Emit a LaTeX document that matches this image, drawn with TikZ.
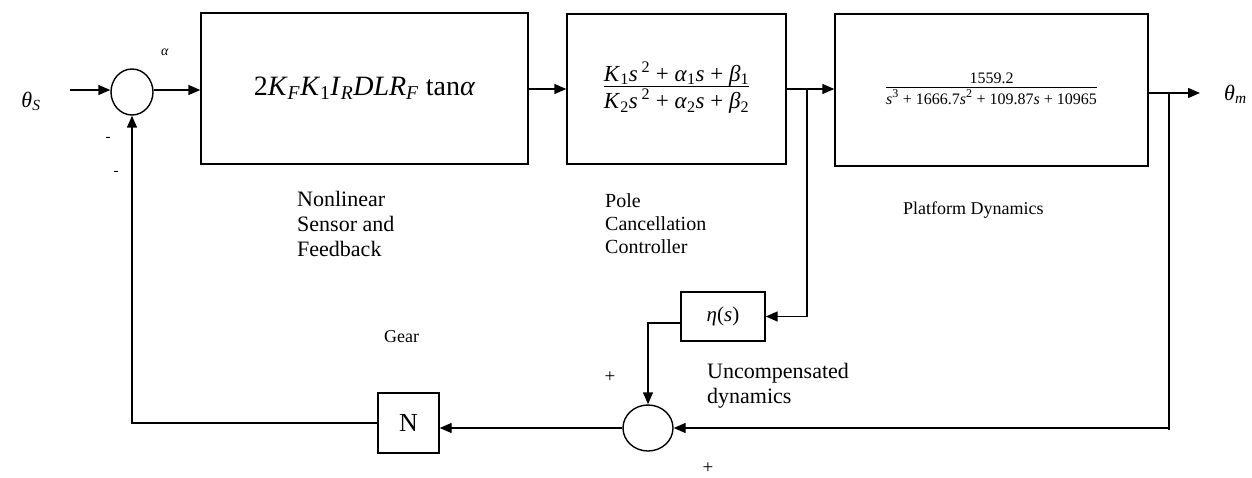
\documentclass[tikz,border=0pt]{standalone}
\usepackage{fontspec}
\setmainfont{Liberation Serif}
\usetikzlibrary{arrows.meta,shapes.geometric}

\newcommand{\vi}[1]{\textit{#1}}
\newcommand{\sbs}[1]{\textsubscript{#1}}
\newcommand{\sps}[1]{\textsuperscript{#1}}
\newcommand{\fsz}[1]{\fontsize{#1}{1.15\dimexpr#1pt\relax}\selectfont}

\tikzset{
  wire/.style={line width=1.4pt},
  sig/.style={wire,-{Triangle[length=12pt,width=10pt]}},
  blk/.style={draw,line width=1.4pt,rectangle,inner sep=0pt},
  sumj/.style={draw,line width=1.4pt,ellipse,inner sep=0pt},
  lbl/.style={inner sep=0pt,anchor=west,align=left},
}

\begin{document}
\begin{tikzpicture}[x=1pt,y=-1pt]
\useasboundingbox (0,0) rectangle (1252,478);

% forward path blocks
\node[blk,minimum width=327pt,minimum height=151pt,font=\fsz{28}] (gain) at (364.5,88.5)
  {2\vi{K}\sbs{\vi{F}}\vi{K}\sbs{1}\vi{I}\sbs{\vi{R}}\vi{DLR}\sbs{\vi{F}} tan\vi{α}};
\node[blk,minimum width=219pt,minimum height=150pt,font=\fsz{23}] (ctrl) at (676.5,89)
  {\begin{tabular}{@{}c@{}}
   \vi{K}\sbs{1}\vi{s}\,\sps{2} + \vi{α}\sbs{1}\vi{s} + \vi{β}\sbs{1}\\[-3pt]\hline\rule{0pt}{22pt}%
   \vi{K}\sbs{2}\vi{s}\,\sps{2} + \vi{α}\sbs{2}\vi{s} + \vi{β}\sbs{2}
  \end{tabular}};
\node[blk,minimum width=313pt,minimum height=152pt,font=\fsz{16}] (plant) at (991.5,90)
  {\begin{tabular}{@{}c@{}}
   1559.2\\[-2pt]\hline\rule{0pt}{17pt}%
   \vi{s}\sps{\large 3} + 1666.7\vi{s}\sps{\large 2} + 109.87\vi{s} + 10965
  \end{tabular}};

% feedback path blocks
\node[blk,minimum width=84pt,minimum height=49pt,font=\fsz{21}] (eta) at (723,316.5)
  {\vi{η}(\vi{s})};
\node[blk,minimum width=61pt,minimum height=60pt,font=\fsz{26}] (gear) at (408.5,423)
  {N};

% summing junctions
\node[sumj,minimum width=42pt,minimum height=46pt] (sum1) at (132,92) {};
\node[sumj,minimum width=50pt,minimum height=46pt] (sum2) at (648,428) {};

% signal ends and branch points
\coordinate (in) at (70,90);
\coordinate (out) at (1200,93);
\coordinate (tapA) at (807,89);
\coordinate (tapB) at (1169,93);
\coordinate (tapBend) at (1169,430);

% forward path
\draw[sig] (in) -- (in -| sum1.west);
\draw[sig] (sum1.east |- in) -- (in -| gain.west);
\draw[sig] (gain.east |- 0,89) -- (ctrl.west |- 0,89);
\draw[sig] (ctrl.east |- 0,89) -- (plant.west |- 0,89);
\draw[sig] (plant.east |- out) -- (out);

% inner loop through the uncompensated dynamics
\draw[sig] (tapA) |- (eta.east);
\draw[sig] (eta.west |- 0,323) -| (sum2.north);
\draw[wire] (tapB) -- (tapBend);
\draw[sig] (tapB |- sum2.east) -- (sum2.east);

% outer feedback through the gear
\draw[sig] (sum2.west) -- (gear.east |- sum2.west);
\draw[sig] (gear.west) -| (sum1.south);

% signal names
\node[inner sep=0pt,font=\fsz{22}] (thS) at (31,101) {\vi{θ}\sbs{\vi{S}}};
\node[inner sep=0pt,font=\fsz{22},anchor=west] (thm) at (1224,94) {\vi{θ}\sbs{\vi{m}}};
\node[inner sep=0pt,font=\fsz{14}] (alpha) at (165,52) {\vi{α}};

% signs at the junctions
\node[inner sep=0pt,font=\fsz{15}] (m1) at (108,139) {-};
\node[inner sep=0pt,font=\fsz{15}] (m2) at (116,173) {-};
\node[inner sep=0pt,font=\fsz{19}] (p1) at (610,377) {+};
\node[inner sep=0pt,font=\fsz{19}] (p2) at (708,468) {+};

% block captions
\node[lbl,font=\fsz{22}] (capGain) at (297,224) {Nonlinear\\Sensor and\\Feedback};
\node[lbl,font=\fsz{20}] (capCtrl) at (605,224) {Pole\\Cancellation\\Controller};
\node[lbl,font=\fsz{18}] (capPlant) at (903,210) {Platform Dynamics};
\node[lbl,font=\fsz{18}] (capGear) at (384,337) {Gear};
\node[lbl,font=\fsz{22}] (capEta) at (707,385.5) {Uncompensated\\dynamics};

\end{tikzpicture}
\end{document}
